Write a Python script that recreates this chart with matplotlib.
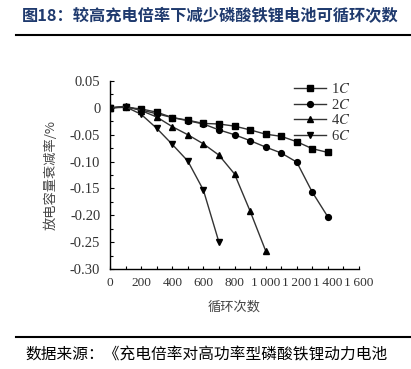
import matplotlib
matplotlib.use("Agg")
import matplotlib.pyplot as plt
from matplotlib.ticker import MultipleLocator, FixedLocator, FixedFormatter

plt.rcParams['font.family'] = ['Liberation Serif', 'Noto Sans CJK SC', 'DejaVu Sans']
plt.rcParams['mathtext.fontset'] = 'stix'

cycles_1c = [0, 100, 200, 300, 400, 500, 600, 700, 800, 900, 1000, 1100, 1200, 1300, 1400]
fade_1c = [0, 0.001, -0.002, -0.008, -0.018, -0.023, -0.029, -0.030, -0.034, -0.041, -0.049, -0.053, -0.063, -0.076, -0.083]
cycles_2c = [0, 100, 200, 300, 400, 500, 600, 700, 800, 900, 1000, 1100, 1200, 1300, 1400]
fade_2c = [0, 0.002, -0.004, -0.011, -0.018, -0.024, -0.030, -0.041, -0.050, -0.061, -0.073, -0.084, -0.101, -0.157, -0.203]
cycles_4c = [0, 100, 200, 300, 400, 500, 600, 700, 800, 900, 1000]
fade_4c = [0, 0.003, -0.005, -0.017, -0.035, -0.050, -0.067, -0.088, -0.123, -0.192, -0.266]
cycles_6c = [0, 100, 200, 300, 400, 500, 600, 700]
fade_6c = [0, 0.002, -0.012, -0.038, -0.068, -0.099, -0.153, -0.250]

series_labels = [r'1$\mathit{C}$', r'2$\mathit{C}$', r'4$\mathit{C}$', r'6$\mathit{C}$']
y_ticks = [0.05, 0, -0.05, -0.10, -0.15, -0.20, -0.25, -0.30]
y_tick_labels = ['0.05', '0', '-0.05', '-0.10', '-0.15', '-0.20', '-0.25', '-0.30']
x_ticks = [0, 200, 400, 600, 800, 1000, 1200, 1400, 1600]
x_tick_labels = ['0', '200', '400', '600', '800', '1\u2009000', '1\u2009200', '1\u2009400', '1\u2009600']

title = '图18：较高充电倍率下减少磷酸铁锂电池可循环次数'
source = '数据来源：《充电倍率对高功率型磷酸铁锂动力电池'
y_label = '放电容量衰减率/%'
x_label = '循环次数'

fig = plt.figure(figsize=(4.11, 3.69), dpi=100)
ax = fig.add_axes([110/411, 1-269/369, (359-110)/411, (269-81)/369])

lc = '#333333'
for xs, ys, m, lab in [(cycles_1c, fade_1c, 's', series_labels[0]),
                       (cycles_2c, fade_2c, 'o', series_labels[1]),
                       (cycles_4c, fade_4c, '^', series_labels[2]),
                       (cycles_6c, fade_6c, 'v', series_labels[3])]:
    ax.plot(xs, ys, color=lc, lw=1.0, marker=m, ms=4.2, mfc='black', mec='black', label=lab)

ax.set_xlim(0, 1600)
ax.set_ylim(-0.30, 0.05)
ax.yaxis.set_major_locator(FixedLocator(y_ticks))
ax.yaxis.set_major_formatter(FixedFormatter(y_tick_labels))
ax.yaxis.set_minor_locator(MultipleLocator(0.025))
ax.xaxis.set_major_locator(FixedLocator(x_ticks))
ax.xaxis.set_major_formatter(FixedFormatter(x_tick_labels))
ax.xaxis.set_minor_locator(MultipleLocator(100))
ax.tick_params(which='both', direction='in', width=0.8, colors='black')
ax.tick_params(which='major', length=3)
ax.tick_params(which='minor', length=2)
ax.tick_params(axis='y', labelsize=10.5, pad=7)
ax.tick_params(axis='x', which='major', length=2, labelsize=9.6, pad=6)
for lbl in ax.get_xticklabels() + ax.get_yticklabels():
    lbl.set_family(['Liberation Serif', 'DejaVu Sans'])
    lbl.set_color('#333333')
for s in ['top', 'right']:
    ax.spines[s].set_visible(False)
for s in ['left', 'bottom']:
    ax.spines[s].set_linewidth(1.0)

ax.set_ylabel(y_label, family=['Noto Sans CJK SC'], fontsize=9.5, color='#444444', labelpad=9)
ax.set_xlabel(x_label, family=['Noto Sans CJK SC'], fontsize=9.5, color='#444444', labelpad=8)

leg = ax.legend(loc='upper right', bbox_to_anchor=(1.0, 1.04), frameon=False, fontsize=10.5,
                handlelength=2.2, handletextpad=0.3, labelspacing=0.1, borderaxespad=0.2)
for t in leg.get_texts():
    t.set_color('#333333')

fig.text(22/411, 1-16/369, title, family=['Noto Sans CJK SC'], fontsize=11.7, fontweight='bold',
         color='#1f3a6e', va='center', ha='left')
fig.add_artist(plt.Line2D([16/411, 410/411], [1-34.5/369, 1-34.5/369], color='black', lw=1.5))
fig.add_artist(plt.Line2D([16/411, 410/411], [1-337/369, 1-337/369], color='black', lw=1.5))
fig.text(25/411, 1-355/369, source, family=['Noto Sans CJK SC'], fontsize=11.3,
         color='black', va='center', ha='left')

fig.savefig('out.png', dpi=100)
